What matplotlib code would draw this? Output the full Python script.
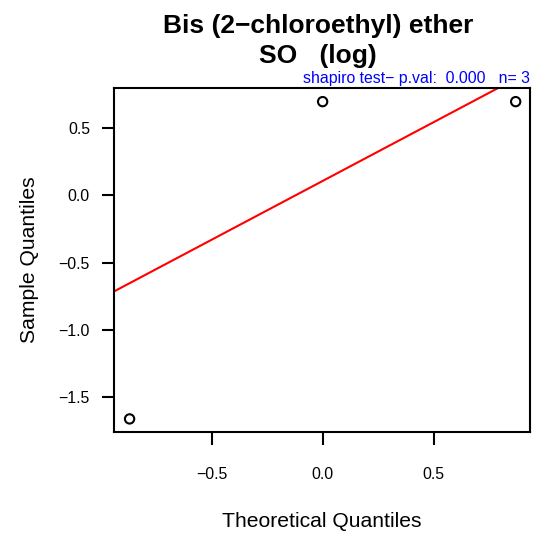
import numpy as np
from matplotlib import pyplot as plt

# theoretical normal quantiles (R ppoints, n=3) and the observed log values
theoretical = [-0.8694, 0.0, 0.8694]
sample = [-1.66, 0.693, 0.693]
xticks = [-0.5, 0.0, 0.5]
yticks = [-1.5, -1.0, -0.5, 0.0, 0.5]

plt.rcParams['font.family'] = ['Liberation Sans', 'DejaVu Sans']

fig = plt.figure(figsize=(5.37, 5.33), dpi=100)
ax = fig.add_axes([0.2114, 0.1895, 0.7756, 0.6456])

ax.scatter(theoretical, sample, s=45, facecolors='none', edgecolors='black',
           linewidths=1.5, zorder=3)

# qqline: through first and third quartiles
y = np.array(sample)
q1, q3 = np.quantile(y, [0.25, 0.75])
z1, z3 = -0.6745, 0.6745
slope = (q3 - q1) / (z3 - z1)
intercept = q1 - slope * z1
xs = np.array([-2, 2])
ax.plot(xs, intercept + slope * xs, color='red', lw=1.5)

ax.set_xlim(-0.9417, 0.934)
ax.set_ylim(-1.757, 0.795)
ax.set_xticks(xticks)
ax.set_xticklabels(['\u22120.5', '0.0', '0.5'])
ax.set_yticks(yticks)
ax.set_yticklabels(['\u22121.5', '\u22121.0', '\u22120.5', '0.0', '0.5'])
ax.tick_params(length=9, width=1.5, labelsize=11.4, pad=16)
ax.tick_params(axis='y', pad=8)
for s in ax.spines.values():
    s.set_linewidth(1.5)

ax.set_xlabel('Theoretical Quantiles', fontsize=15.2, labelpad=22)
ax.set_ylabel('Sample Quantiles', fontsize=15.2, labelpad=14)

fig.text(0.592, 0.952, 'Bis (2\u2212chloroethyl) ether', ha='center', va='center',
         fontsize=19, fontweight='bold')
fig.text(0.592, 0.895, 'SO   (log)', ha='center', va='center',
         fontsize=19, fontweight='bold')
ax.text(1.0, 1.006, 'shapiro test\u2212 p.val:  0.000   n= 3', transform=ax.transAxes,
        ha='right', va='bottom', color='blue', fontsize=11.4)

fig.savefig('out.png', dpi=100)
